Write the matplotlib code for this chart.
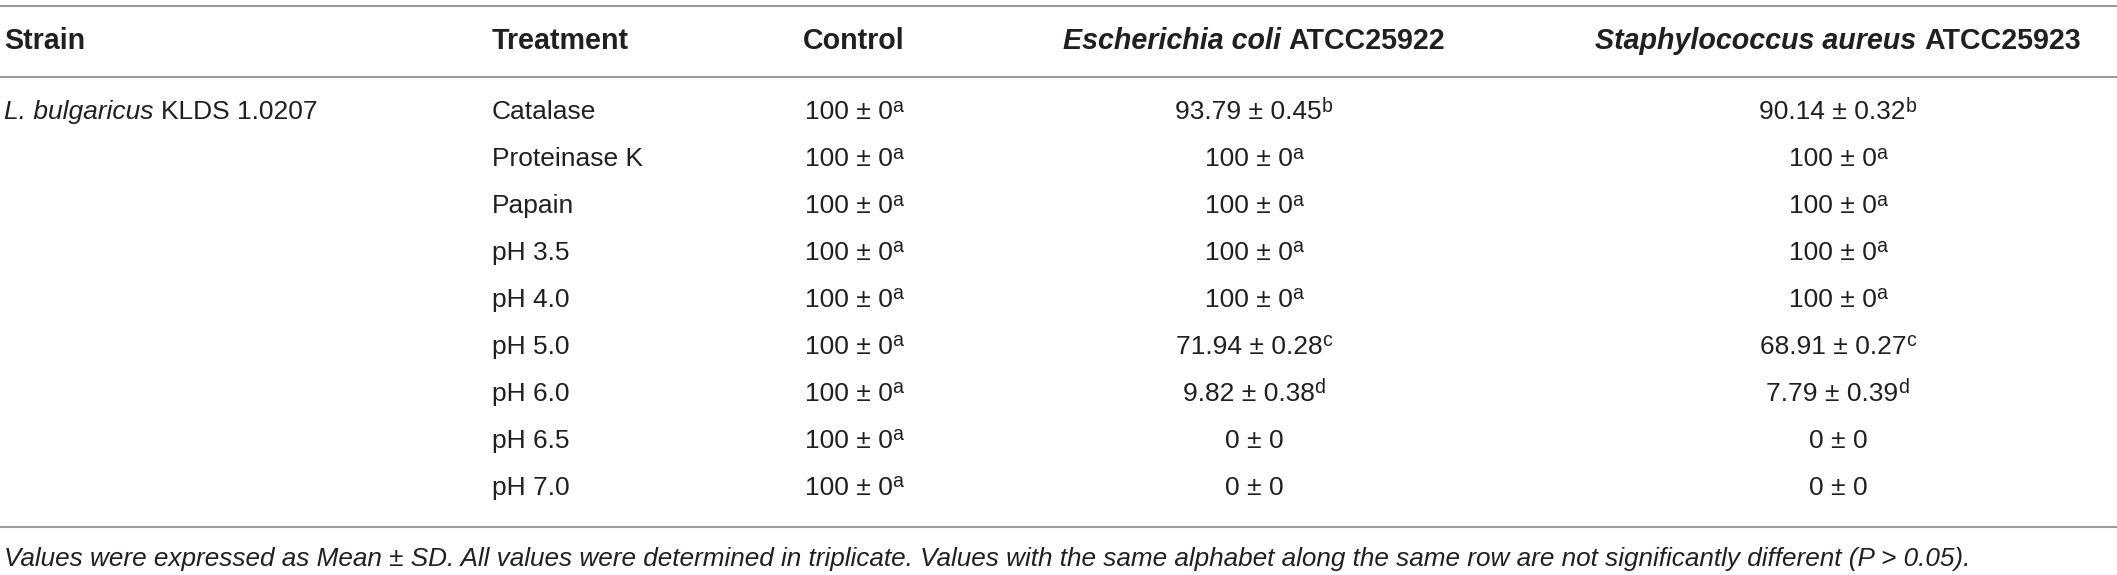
import matplotlib
matplotlib.use("Agg")
import matplotlib.pyplot as plt

# Table content
HEADERS = ["Strain", "Treatment", "Control",
           "Escherichia coli ATCC25922", "Staphylococcus aureus ATCC25923"]
STRAIN_SPECIES = "L. bulgaricus"
STRAIN_ID = "KLDS 1.0207"
TREATMENTS = ["Catalase", "Proteinase K", "Papain", "pH 3.5", "pH 4.0",
              "pH 5.0", "pH 6.0", "pH 6.5", "pH 7.0"]

CONTROL_MEAN = [100, 100, 100, 100, 100, 100, 100, 100, 100]
CONTROL_SD = [0, 0, 0, 0, 0, 0, 0, 0, 0]
CONTROL_SIG = ["a", "a", "a", "a", "a", "a", "a", "a", "a"]

ECOLI_MEAN = [93.79, 100, 100, 100, 100, 71.94, 9.82, 0, 0]
ECOLI_SD = [0.45, 0, 0, 0, 0, 0.28, 0.38, 0, 0]
ECOLI_SIG = ["b", "a", "a", "a", "a", "c", "d", "", ""]

STAPH_MEAN = [90.14, 100, 100, 100, 100, 68.91, 7.79, 0, 0]
STAPH_SD = [0.32, 0, 0, 0, 0, 0.27, 0.39, 0, 0]
STAPH_SIG = ["b", "a", "a", "a", "a", "c", "d", "", ""]

FOOTNOTE = ("Values were expressed as Mean \u00b1 SD. All values were determined in "
            "triplicate. Values with the same alphabet along the same row are not "
            "significantly different (P > 0.05).")

# Layout (pixels)
W, H = 2117, 575
FONT = "Liberation Sans"
FS = 19.0            # body text, points at dpi 100
FS_HEAD = 20.6       # bold header text
FS_FOOT = 18.8
TXT = "#231f20"
RULE = "#9b9b9b"
X_STRAIN = 4
X_TREAT = 492
X_CONTROL = 854
X_ECOLI = 1254
X_STAPH = 1838
Y_HEAD = 41.5
Y_ROW0 = 112.5
ROW_STEP = 46.9
Y_FOOT = 559
RULES_Y = [5.5, 77, 526.5]

fig = plt.figure(figsize=(W / 100, H / 100), dpi=100)
ax = fig.add_axes([0, 0, 1, 1])
ax.set_xlim(0, W)
ax.set_ylim(H, 0)
ax.axis("off")
renderer = fig.canvas.get_renderer()


def fmt(v):
    return f"{v:g}"


def draw_runs(x, yc, runs, ha="left", size=FS):
    """runs: list of (text, weight, style, size_scale, raise_em)"""
    base = yc + 0.36 * size  # baseline from cap centre (pt == px here)
    items = []
    for txt, weight, style, scale, rise in runs:
        t = ax.text(0, base - rise * size, txt, fontfamily=FONT, fontsize=size * scale,
                    fontweight=weight, fontstyle=style, color=TXT,
                    ha="left", va="baseline")
        w = t.get_window_extent(renderer).width
        items.append((t, w))
    total = sum(w for _, w in items)
    cur = x - total / 2 if ha == "center" else x
    for t, w in items:
        t.set_x(cur)
        cur += w


def value_runs(m, sd, sig):
    runs = [(f"{fmt(m)} \u00b1 {fmt(sd)}", "normal", "normal", 1.0, 0)]
    if sig:
        runs.append((sig, "normal", "normal", 0.74, 0.40))
    return runs


# rules
for y in RULES_Y:
    ax.plot([0, W], [y, y], color=RULE, lw=1.5, solid_capstyle="butt")

# header
draw_runs(X_STRAIN, Y_HEAD, [(HEADERS[0], "bold", "normal", 1.0, 0)], size=FS_HEAD)
draw_runs(X_TREAT, Y_HEAD, [(HEADERS[1], "bold", "normal", 1.0, 0)], size=FS_HEAD)
draw_runs(X_CONTROL, Y_HEAD, [(HEADERS[2], "bold", "normal", 1.0, 0)],
          ha="center", size=FS_HEAD)
for xc, head in [(X_ECOLI, HEADERS[3]), (X_STAPH, HEADERS[4])]:
    sp, _, st = head.rpartition(" ")
    draw_runs(xc, Y_HEAD, [(sp + " ", "bold", "italic", 1.0, 0),
                           (st, "bold", "normal", 1.0, 0)], ha="center", size=FS_HEAD)

# body
draw_runs(X_STRAIN, Y_ROW0, [(STRAIN_SPECIES + " ", "normal", "italic", 1.0, 0),
                             (STRAIN_ID, "normal", "normal", 1.0, 0)])
for i, tr in enumerate(TREATMENTS):
    y = Y_ROW0 + i * ROW_STEP
    draw_runs(X_TREAT, y, [(tr, "normal", "normal", 1.0, 0)])
    draw_runs(X_CONTROL, y, value_runs(CONTROL_MEAN[i], CONTROL_SD[i], CONTROL_SIG[i]), ha="center")
    draw_runs(X_ECOLI, y, value_runs(ECOLI_MEAN[i], ECOLI_SD[i], ECOLI_SIG[i]), ha="center")
    draw_runs(X_STAPH, y, value_runs(STAPH_MEAN[i], STAPH_SD[i], STAPH_SIG[i]), ha="center")

# footnote
draw_runs(X_STRAIN, Y_FOOT, [(FOOTNOTE, "normal", "italic", 1.0, 0)], size=FS_FOOT)

fig.savefig("out.png", dpi=100)
